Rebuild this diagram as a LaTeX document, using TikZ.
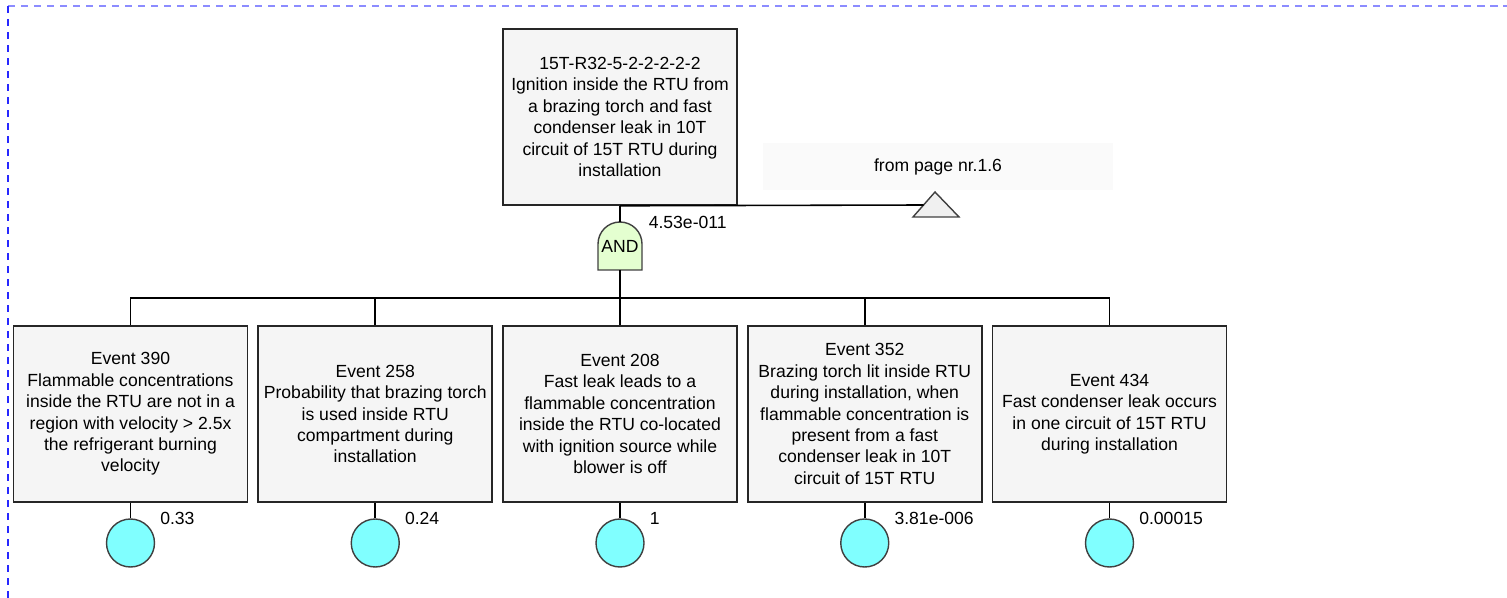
\documentclass[tikz,border=0pt]{standalone}
\usepackage{fontspec}
\setmainfont{Liberation Sans}
\usepackage{tikz}
\usepackage{xcolor}
\definecolor{boxgray}{RGB}{245,245,245}
\definecolor{pagegray}{RGB}{250,250,250}
\definecolor{trigray}{RGB}{240,240,240}
\definecolor{gatelime}{RGB}{228,255,208}
\definecolor{basecyan}{RGB}{128,255,255}
\definecolor{edgeblue}{RGB}{40,40,255}
\definecolor{paleblue}{RGB}{140,140,255}

\tikzset{
  event/.style={draw=black!85,line width=0.9pt,fill=boxgray,align=center,
    minimum width=4.68cm,minimum height=3.52cm,inner sep=1pt},
  basic/.style={circle,draw=black!75,line width=0.8pt,fill=basecyan,minimum size=0.96cm,inner sep=0pt},
  prob/.style={anchor=west,inner sep=0pt}
}

\begin{document}
\begin{tikzpicture}[every node/.style={font=\fontsize{10}{12.2}\selectfont},line width=0.9pt]
\useasboundingbox (0,0) rectangle (30.14,-11.96);
% page frame
\draw[paleblue,dash pattern=on 4pt off 3.4pt] (0.16,-0.12) -- (30.14,-0.12);
\draw[edgeblue,dash pattern=on 4pt off 3.4pt] (0.16,-0.12) -- (0.16,-11.96);

% top event and transfer
\node[event] (top) at (12.40,-2.34) {15T-R32-5-2-2-2-2-2\\Ignition inside the RTU from\\a brazing torch and fast\\condenser leak in 10T\\circuit of 15T RTU during\\installation};
\node[fill=pagegray,minimum width=7cm,minimum height=0.94cm] (page) at (18.76,-3.33) {from page nr.1.6};
\draw[black!75,line width=0.8pt,fill=trigray] (18.26,-4.34) -- (18.70,-3.84) -- (19.18,-4.34) -- cycle;
\coordinate (xfer) at (18.47,-4.10);
\draw (top.south) -- (xfer);

% AND gate
\draw[black!75,line width=0.8pt,fill=gatelime] (11.96,-5.40) -- (11.96,-4.88) arc[start angle=180,end angle=0,radius=0.44cm] -- (12.84,-5.40) -- cycle;
\node[inner sep=1pt] (gate) at (12.40,-4.93) {AND};
\coordinate (gatetop) at (12.40,-4.44);
\coordinate (gatebot) at (12.40,-5.40);
\coordinate (bus) at (12.40,-5.96);
\draw (top.south) -- (gatetop);
\node[prob] (ptop) at (12.96,-4.44) {4.53e-011};

% basic events
\node[event] (e390) at (2.61,-8.28) {Event 390\\Flammable concentrations\\inside the RTU are not in a\\region with velocity > 2.5x\\the refrigerant burning\\velocity};
\node[event] (e258) at (7.505,-8.28) {Event 258\\Probability that brazing torch\\is used inside RTU\\compartment during\\installation};
\node[event] (e208) at (12.40,-8.28) {Event 208\\Fast leak leads to a\\flammable concentration\\inside the RTU co-located\\with ignition source while\\blower is off};
\node[event] (e352) at (17.295,-8.28) {Event 352\\Brazing torch lit inside RTU\\during installation, when\\flammable concentration is\\present from a fast\\condenser leak in 10T\\circuit of 15T RTU};
\node[event] (e434) at (22.19,-8.28) {Event 434\\Fast condenser leak occurs\\in one circuit of 15T RTU\\during installation};

\draw (gatebot) -- (bus) -| (e390.north);
\draw (bus) -| (e258.north);
\draw (bus) -- (e208.north);
\draw (bus) -| (e352.north);
\draw (bus) -| (e434.north);

\node[basic] (c390) at (2.61,-10.86) {};
\node[basic] (c258) at (7.505,-10.86) {};
\node[basic] (c208) at (12.40,-10.86) {};
\node[basic] (c352) at (17.295,-10.86) {};
\node[basic] (c434) at (22.19,-10.86) {};
\draw (e390.south) -- (c390);
\draw (e258.south) -- (c258);
\draw (e208.south) -- (c208);
\draw (e352.south) -- (c352);
\draw (e434.south) -- (c434);

\node[prob] (p390) at (3.19,-10.36) {0.33};
\node[prob] (p258) at (8.085,-10.36) {0.24};
\node[prob] (p208) at (12.98,-10.36) {1};
\node[prob] (p352) at (17.875,-10.36) {3.81e-006};
\node[prob] (p434) at (22.77,-10.36) {0.00015};
\end{tikzpicture}
\end{document}
